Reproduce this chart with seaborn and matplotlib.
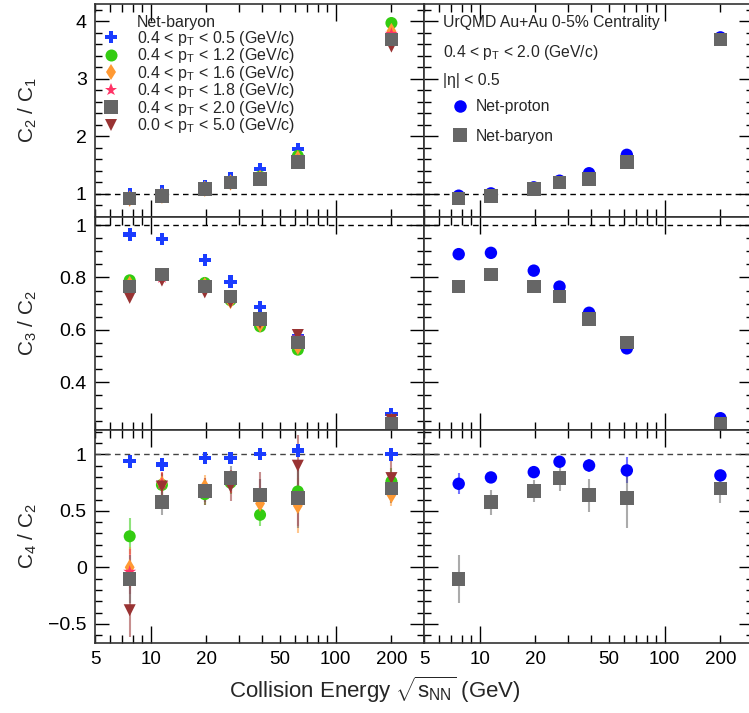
import numpy as np
import pandas as pd
import matplotlib
matplotlib.use("Agg")
import matplotlib.pyplot as plt
import seaborn as sns
from matplotlib.lines import Line2D
from matplotlib.ticker import FixedLocator, FixedFormatter, NullFormatter

# ---------------- data ----------------
energy = [7.7, 11.5, 19.6, 27, 39, 62.4, 200]

series_labels = ["0.4 < p$_{T}$ < 0.5 (GeV/c)", "0.4 < p$_{T}$ < 1.2 (GeV/c)",
                 "0.4 < p$_{T}$ < 1.6 (GeV/c)", "0.4 < p$_{T}$ < 1.8 (GeV/c)",
                 "0.4 < p$_{T}$ < 2.0 (GeV/c)", "0.0 < p$_{T}$ < 5.0 (GeV/c)"]

c21_pt05 = [1.00, 1.04, 1.14, 1.28, 1.43, 1.78, 3.75]
c21_pt12 = [0.93, 0.98, 1.10, 1.21, 1.30, 1.66, 3.97]
c21_pt16 = [0.92, 0.97, 1.09, 1.20, 1.28, 1.62, 3.83]
c21_pt18 = [0.91, 0.96, 1.08, 1.19, 1.26, 1.58, 3.78]
c21_pt20 = [0.92, 0.965, 1.087, 1.197, 1.26, 1.556, 3.68]
c21_pt50 = [0.90, 0.95, 1.07, 1.18, 1.25, 1.54, 3.56]
c21_proton = [0.97, 1.01, 1.115, 1.23, 1.36, 1.68, 3.72]

c32_pt05 = [0.964, 0.946, 0.867, 0.784, 0.687, 0.575, 0.277]
c32_pt12 = [0.789, 0.810, 0.779, 0.713, 0.613, 0.524, 0.250]
c32_pt16 = [0.775, 0.805, 0.770, 0.710, 0.620, 0.535, 0.250]
c32_pt18 = [0.760, 0.800, 0.765, 0.720, 0.635, 0.570, 0.245]
c32_pt20 = [0.765, 0.811, 0.765, 0.727, 0.642, 0.552, 0.240]
c32_pt50 = [0.722, 0.788, 0.743, 0.705, 0.626, 0.580, 0.255]
c32_proton = [0.889, 0.894, 0.826, 0.765, 0.665, 0.529, 0.262]

c42_pt05 = [0.938, 0.911, 0.967, 0.970, 1.003, 1.035, 1.000]
c42_pt12 = [0.275, 0.730, 0.648, 0.750, 0.465, 0.672, 0.760]
c42_pt16 = [0.000, 0.740, 0.715, 0.760, 0.565, 0.545, 0.640]
c42_pt18 = [-0.040, 0.740, 0.680, 0.760, 0.630, 0.620, 0.720]
c42_pt20 = [-0.104, 0.577, 0.675, 0.790, 0.639, 0.612, 0.700]
c42_pt50 = [-0.380, 0.716, 0.670, 0.716, 0.640, 0.900, 0.790]
c42_proton = [0.740, 0.796, 0.843, 0.935, 0.902, 0.858, 0.814]

c42_pt05_err = [0.01, 0.01, 0.01, 0.01, 0.01, 0.01, 0.01]
c42_pt12_err = [0.16, 0.10, 0.10, 0.10, 0.10, 0.20, 0.12]
c42_pt16_err = [0.18, 0.10, 0.10, 0.10, 0.12, 0.245, 0.10]
c42_pt18_err = [0.20, 0.10, 0.10, 0.10, 0.15, 0.25, 0.12]
c42_pt20_err = [0.21, 0.11, 0.10, 0.11, 0.145, 0.26, 0.13]
c42_pt50_err = [0.24, 0.12, 0.12, 0.13, 0.20, 0.275, 0.15]
c42_proton_err = [0.095, 0.05, 0.04, 0.04, 0.06, 0.115, 0.05]

# ---------------- style ----------------
sns.set_theme(style="ticks")
plt.rcParams["font.family"] = ["Liberation Sans", "DejaVu Sans"]
plt.rcParams["mathtext.fontset"] = "custom"
plt.rcParams["mathtext.rm"] = "Liberation Sans"
plt.rcParams["mathtext.it"] = "Liberation Sans:italic"
plt.rcParams["mathtext.default"] = "regular"

colors = ["#1a3cff", "#33cc11", "#ff9933", "#ff3366", "#666666", "#993333"]
markers = ["P", "o", "d", "*", "s", "v"]
msizes = [80, 75, 70, 95, 95, 75]
proton_color = "#0000ff"

W, H = 749, 713
fig = plt.figure(figsize=(W / 100, H / 100), dpi=100)

xl, xr, pw = 95, 424, 329
rows = [4, 217, 430, 643]

def make_ax(col, row):
    x0 = xl if col == 0 else xr
    top, bot = rows[row], rows[row + 1]
    return fig.add_axes([x0 / W, 1 - bot / H, pw / W, (bot - top) / H])

ylims = [(0.6, 4.3), (0.217, 1.031), (-0.67, 1.216)]
ymajor = [[1, 2, 3, 4], [0.4, 0.6, 0.8, 1.0], [-0.5, 0, 0.5, 1.0]]
ymajor_lbl = [["1", "2", "3", "4"], ["0.4", "0.6", "0.8", "1"], ["\u22120.5", "0", "0.5", "1"]]
yminor_step = [0.2, 0.05, 0.1]
ylabels = ["C$_{2}$ / C$_{1}$", "C$_{3}$ / C$_{2}$", "C$_{4}$ / C$_{2}$"]

nb_c21 = [c21_pt05, c21_pt12, c21_pt16, c21_pt18, c21_pt20, c21_pt50]
nb_c32 = [c32_pt05, c32_pt12, c32_pt16, c32_pt18, c32_pt20, c32_pt50]
nb_c42 = [c42_pt05, c42_pt12, c42_pt16, c42_pt18, c42_pt20, c42_pt50]
nb_c42_err = [c42_pt05_err, c42_pt12_err, c42_pt16_err, c42_pt18_err, c42_pt20_err, c42_pt50_err]
nb_all = [nb_c21, nb_c32, nb_c42]
proton_all = [c21_proton, c32_proton, c42_proton]

draw_order = [0, 1, 2, 3, 5, 4]

xmaj = [10, 100]
xmin = [5, 6, 7, 8, 9, 20, 30, 40, 50, 60, 70, 80, 90, 200, 300]
xmin_lbl = ["5", "", "", "", "", "20", "", "", "50", "", "", "", "", "200", ""]

for row in range(3):
    for col in range(2):
        ax = make_ax(col, row)
        ax.set_xscale("log")
        ax.set_xlim(5, 300)
        ax.set_ylim(*ylims[row])
        ax.axhline(1.0, color="black" if row < 2 else "#444444", lw=1.0,
                   ls=(0, (4, 3)), zorder=1)
        if col == 0:
            for k in draw_order:
                if row == 2:
                    ax.errorbar(energy, nb_c42[k], yerr=nb_c42_err[k], fmt="none",
                                ecolor=colors[k], alpha=0.55, elinewidth=1.5,
                                capsize=0, zorder=2)
                df = pd.DataFrame({"E": energy, "v": nb_all[row][k]})
                sns.scatterplot(data=df, x="E", y="v", ax=ax, marker=markers[k],
                                color=colors[k], s=msizes[k], edgecolor="none",
                                linewidth=0, zorder=3, legend=False)
        else:
            if row == 2:
                ax.errorbar(energy, c42_proton, yerr=c42_proton_err, fmt="none",
                            ecolor=proton_color, alpha=0.55, elinewidth=1.5, zorder=2)
                ax.errorbar(energy, c42_pt20, yerr=c42_pt20_err, fmt="none",
                            ecolor="#666666", alpha=0.55, elinewidth=1.5, zorder=2)
            dfp = pd.DataFrame({"E": energy, "v": proton_all[row]})
            sns.scatterplot(data=dfp, x="E", y="v", ax=ax, marker="o",
                            color=proton_color, s=80, edgecolor="none",
                            linewidth=0, zorder=3, legend=False)
            dfb = pd.DataFrame({"E": energy, "v": nb_all[row][4]})
            sns.scatterplot(data=dfb, x="E", y="v", ax=ax, marker="s",
                            color="#666666", s=95, edgecolor="none",
                            linewidth=0, zorder=4, legend=False)

        ax.set_xlabel("")
        ax.set_ylabel("")
        # ticks
        ax.xaxis.set_major_locator(FixedLocator(xmaj))
        ax.xaxis.set_minor_locator(FixedLocator(xmin))
        yl = ylims[row]
        st = yminor_step[row]
        ymin_ticks = np.arange(np.ceil(yl[0] / st) * st, yl[1], st)
        ax.yaxis.set_major_locator(FixedLocator(ymajor[row]))
        ax.yaxis.set_minor_locator(FixedLocator(list(ymin_ticks)))
        ax.tick_params(axis="both", which="both", direction="in", top=True,
                       right=True, colors="black", width=1.0)
        ax.tick_params(axis="x", which="major", length=12)
        ax.tick_params(axis="x", which="minor", length=6)
        ax.tick_params(axis="y", which="major", length=10)
        ax.tick_params(axis="y", which="minor", length=5)
        if row == 2:
            ax.xaxis.set_major_formatter(FixedFormatter(["10", "100"]))
            ax.xaxis.set_minor_formatter(FixedFormatter(xmin_lbl))
            ax.tick_params(axis="x", which="both", labelsize=13.5, pad=6)
        else:
            ax.xaxis.set_major_formatter(NullFormatter())
            ax.xaxis.set_minor_formatter(NullFormatter())
        if col == 0:
            ax.yaxis.set_major_formatter(FixedFormatter(ymajor_lbl[row]))
            ax.tick_params(axis="y", which="major", labelsize=14, pad=6)
        else:
            ax.yaxis.set_major_formatter(NullFormatter())
        ax.yaxis.set_minor_formatter(NullFormatter())
        for sp in ax.spines.values():
            sp.set_color("#333333")
            sp.set_linewidth(1.2)
        ax.set_facecolor("white")

        if col == 0:
            ycen = (rows[row] + rows[row + 1]) / 2
            fig.text(28 / W, 1 - ycen / H, ylabels[row], rotation=90,
                     ha="center", va="center", fontsize=15)

        if row == 0 and col == 0:
            handles = [Line2D([], [], linestyle="none", marker="")]
            labels = ["Net-baryon"]
            for k in range(6):
                handles.append(Line2D([], [], linestyle="none", marker=markers[k],
                                      color=colors[k], markersize=np.sqrt(msizes[k]),
                                      markeredgewidth=0))
                labels.append(series_labels[k])
            leg = ax.legend(handles, labels, loc="upper left",
                            bbox_to_anchor=(103 / W, 1 - 15 / H),
                            bbox_transform=fig.transFigure, frameon=False,
                            fontsize=11.5, handlelength=1.0, handletextpad=1.1,
                            labelspacing=-0.09, borderpad=0, borderaxespad=0)
        if row == 0 and col == 1:
            ax.text(443 / W, 1 - 22 / H, "UrQMD Au+Au 0-5% Centrality",
                    transform=fig.transFigure, fontsize=11.3, va="center", ha="left")
            ax.text(443 / W, 1 - 52 / H, "0.4 < p$_{T}$ < 2.0 (GeV/c)",
                    transform=fig.transFigure, fontsize=11.3, va="center", ha="left")
            ax.text(443 / W, 1 - 80 / H, "|\u03b7| < 0.5",
                    transform=fig.transFigure, fontsize=11.3, va="center", ha="left")
            h2 = [Line2D([], [], linestyle="none", marker="o", color=proton_color,
                         markersize=9, markeredgewidth=0),
                  Line2D([], [], linestyle="none", marker="s", color="#666666",
                         markersize=9.7, markeredgewidth=0)]
            ax.legend(h2, ["Net-proton", "Net-baryon"], loc="upper left",
                      bbox_to_anchor=(452 / W, 1 - 99 / H),
                      bbox_transform=fig.transFigure, frameon=False,
                      fontsize=11.3, handlelength=1.0, handletextpad=0.5,
                      labelspacing=0.95, borderpad=0, borderaxespad=0)

fig.text(0.5, 1 - 690 / H, "Collision Energy $\\sqrt{s_{NN}}$ (GeV)",
         ha="center", va="center", fontsize=16)

fig.savefig("out.png", dpi=100, facecolor="white")
